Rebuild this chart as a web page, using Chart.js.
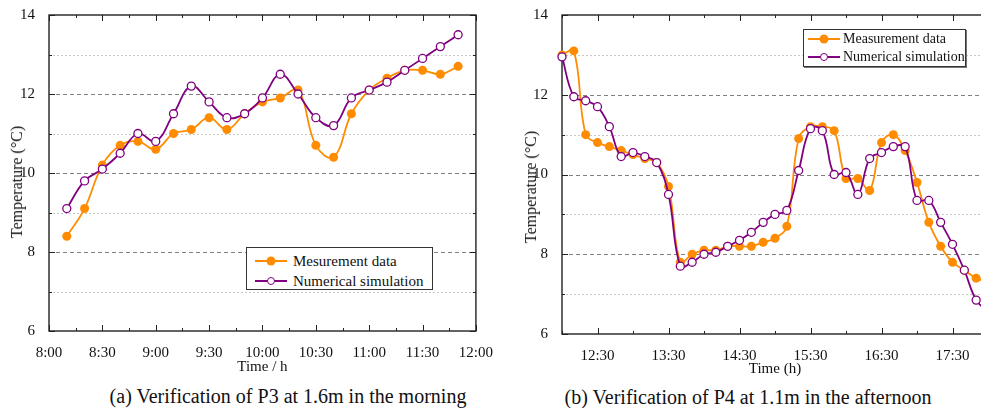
<!DOCTYPE html>
<html>
<head>
<meta charset="utf-8">
<script src="https://cdn.jsdelivr.net/npm/chart.js@4.4.1/dist/chart.umd.min.js"></script>
<style>
html, body { margin: 0; padding: 0; background: #fff; }
body { width: 981px; height: 408px; overflow: hidden; position: relative;
  font-family: 'Liberation Serif', 'Times New Roman', serif; color: #111; }
canvas { position: absolute; top: 0; }
.cap { position: absolute; transform: translate(-50%, -50%); white-space: nowrap; font-size: 20px; }
.ytl { position: absolute; transform: translate(-50%, -50%) rotate(-90deg); white-space: nowrap; font-size: 16px; }
.lg { position: absolute; background: #fff; border: 1px solid #333; box-sizing: border-box; }
.lg .row { display: flex; align-items: center; white-space: nowrap; }
.smp { position: relative; display: inline-block; height: 2px; flex: none; }
.smp i { position: absolute; left: 50%; top: 50%; border-radius: 50%; transform: translate(-50%, -50%); box-sizing: border-box; }
</style>
</head>
<body>
<canvas id="chartA" width="498" height="380" style="left:0px"></canvas>
<canvas id="chartB" width="485" height="382" style="left:513px"></canvas>
<div class="ytl" style="left:17px;top:182px">Temperature (°C)</div>
<div class="ytl" style="left:531px;top:187px">Temperature (°C)</div>
<div class="lg" id="legA" style="left:246px;top:247px;width:187px;height:43px;font-size:15px;padding-top:3px"></div>
<div class="lg" id="legB" style="left:803px;top:29px;width:163px;height:38px;font-size:14px;padding-top:0px;box-shadow:1px 1px 0 #777"></div>
<div class="cap" style="left:288px;top:396px">(a) Verification of P3 at 1.6m in the morning</div>
<div class="cap" style="left:748px;top:397px">(b) Verification of P4 at 1.1m in the afternoon</div>
<script>
// --- données (a) matin, P3 à 1.6m
const timeA = ["8:10", "8:20", "8:30", "8:40", "8:50", "9:00", "9:10", "9:20", "9:30", "9:40", "9:50", "10:00",
  "10:10", "10:20", "10:30", "10:40", "10:50", "11:00", "11:10", "11:20", "11:30", "11:40", "11:50"];
const measA = [8.4, 9.1, 10.2, 10.7, 10.8, 10.6, 11.0, 11.1, 11.4, 11.1, 11.5, 11.8,
  11.9, 12.1, 10.7, 10.4, 11.5, 12.1, 12.4, 12.6, 12.6, 12.5, 12.7];
const simA = [9.1, 9.8, 10.1, 10.5, 11.0, 10.8, 11.5, 12.2, 11.8, 11.4, 11.5, 11.9,
  12.5, 12.0, 11.4, 11.2, 11.9, 12.1, 12.3, 12.6, 12.9, 13.2, 13.5];
const ticksA = ["8:00", "8:30", "9:00", "9:30", "10:00", "10:30", "11:00", "11:30", "12:00"];

// --- données (b) après-midi, P4 à 1.1m
const timeB = ["12:00", "12:10", "12:20", "12:30", "12:40", "12:50", "13:00", "13:10", "13:20", "13:30",
  "13:40", "13:50", "14:00", "14:10", "14:20", "14:30", "14:40", "14:50", "15:00", "15:10",
  "15:20", "15:30", "15:40", "15:50", "16:00", "16:10", "16:20", "16:30", "16:40", "16:50",
  "17:00", "17:10", "17:20", "17:30", "17:40", "17:50", "18:00"];
const measB = [13.0, 13.1, 11.0, 10.8, 10.7, 10.6, 10.5, 10.4, 10.3, 9.7,
  7.8, 8.0, 8.1, 8.1, 8.2, 8.2, 8.2, 8.3, 8.4, 8.7,
  10.9, 11.2, 11.2, 11.1, 9.9, 9.9, 9.6, 10.8, 11.0, 10.6,
  9.8, 8.8, 8.2, 7.8, 7.6, 7.4, 7.3];
const simB = [12.95, 11.95, 11.85, 11.7, 11.2, 10.45, 10.55, 10.45, 10.3, 9.5,
  7.7, 7.8, 8.0, 8.05, 8.2, 8.35, 8.55, 8.8, 9.0, 9.1,
  10.1, 11.15, 11.1, 10.0, 10.05, 9.5, 10.4, 10.55, 10.7, 10.7,
  9.35, 9.35, 8.8, 8.25, 7.6, 6.85, 6.55];
const ticksB = ["12:30", "13:30", "14:30", "15:30", "16:30", "17:30"];

const ticksY = [6, 8, 10, 12, 14];

const ORANGE = "rgb(255, 140, 0)";
const PURPLE = "rgb(128, 0, 128)";

Chart.defaults.font.family = "'Liberation Serif', 'Times New Roman', serif";
Chart.defaults.color = "#111";

function toMin(s) {
  const [h, m] = s.split(":");
  return Number(h) * 60 + Number(m);
}
function fmt(v) {
  return Math.floor(v / 60) + ":" + String(v % 60).padStart(2, "0");
}

// grille pointillée, cadre et petits repères vers l'intérieur
const framePlugin = {
  id: "frame",
  beforeDatasetsDraw(chart, args, opts) {
    const { ctx, chartArea: a, scales: { x, y } } = chart;
    const seg = (x1, y1, x2, y2) => { ctx.beginPath(); ctx.moveTo(x1, y1); ctx.lineTo(x2, y2); ctx.stroke(); };
    ctx.save();
    ctx.lineWidth = 1;
    for (let v = y.min + 1; v < y.max; v++) {
      const py = Math.round(y.getPixelForValue(v)) + 0.5;
      const major = v % 2 === 0;
      ctx.strokeStyle = major ? "#808080" : "#c8c8c8";
      ctx.setLineDash(major ? [4, 3] : [2, 2]);
      seg(a.left, py, a.right, py);
    }
    ctx.setLineDash([]);
    ctx.strokeStyle = "#222";
    ctx.lineWidth = 1.4;
    ctx.strokeRect(a.left, a.top, a.right - a.left, a.bottom - a.top);
    ctx.lineWidth = 1;
    const majX = x.ticks.map(t => t.value);
    for (let v = x.min; v <= x.max; v += opts.xStep) {
      const px = Math.round(x.getPixelForValue(v)) + 0.5;
      const len = majX.includes(v) ? 6 : 3;
      seg(px, a.bottom, px, a.bottom - len);
      seg(px, a.top, px, a.top + len);
    }
    for (let v = y.min; v <= y.max; v++) {
      const py = Math.round(y.getPixelForValue(v)) + 0.5;
      const len = v % 2 === 0 ? 6 : 3;
      seg(a.left, py, a.left + len, py);
      seg(a.right, py, a.right - len, py);
    }
    ctx.restore();
  }
};

function makeChart(id, times, meas, sim, measLabel, xTicks, xMin, xMax, xStep, xTitle, padRight, xHeight) {
  const pts = arr => times.map((t, i) => ({ x: toMin(t), y: arr[i] }));
  return new Chart(document.getElementById(id), {
    type: "line",
    data: {
      datasets: [
        {
          label: measLabel,
          data: pts(meas),
          borderColor: ORANGE,
          backgroundColor: ORANGE,
          borderWidth: 1.8,
          pointRadius: 4.5,
          pointBorderWidth: 0,
          pointBackgroundColor: ORANGE,
          tension: 0.4,
          clip: false,
          order: 2,
        },
        {
          label: "Numerical simulation",
          data: pts(sim),
          borderColor: PURPLE,
          backgroundColor: "#fff",
          borderWidth: 1.8,
          pointRadius: 4,
          pointBorderWidth: 1.3,
          pointBackgroundColor: "#fff",
          pointBorderColor: PURPLE,
          tension: 0.4,
          clip: false,
          order: 1,
        },
      ],
    },
    options: {
      responsive: false,
      animation: false,
      devicePixelRatio: 1,
      layout: { padding: { left: 0, top: 15, right: padRight, bottom: 0 } },
      plugins: {
        legend: { display: false },
        tooltip: { enabled: false },
        frame: { xStep },
      },
      scales: {
        x: {
          type: "linear",
          min: xMin,
          max: xMax,
          grid: { display: false },
          border: { display: false },
          afterBuildTicks: s => { s.ticks = xTicks.map(t => ({ value: toMin(t) })); },
          afterFit: s => { s.height = xHeight; },
          ticks: { font: { size: 15 }, padding: 5, maxRotation: 0, autoSkip: false, callback: v => fmt(v) },
          title: { display: true, text: xTitle, font: { size: 15 }, padding: { top: 0, bottom: 4 } },
        },
        y: {
          min: 6,
          max: 14,
          grid: { display: false },
          border: { display: false },
          afterBuildTicks: s => { s.ticks = ticksY.map(v => ({ value: v })); },
          afterFit: s => { s.width = 49; },
          ticks: { font: { size: 15 }, padding: 6 },
        },
      },
    },
    plugins: [framePlugin],
  });
}

function makeLegend(id, chart, lineW, marginL, gap, rowH) {
  const box = document.getElementById(id);
  chart.data.datasets.forEach(ds => {
    const row = document.createElement("div");
    row.className = "row";
    row.style.height = rowH + "px";
    const smp = document.createElement("span");
    smp.className = "smp";
    smp.style.width = lineW + "px";
    smp.style.margin = "0 " + gap + "px 0 " + marginL + "px";
    smp.style.background = ds.borderColor;
    const dot = document.createElement("i");
    const d = ds.pointRadius * 2;
    dot.style.width = d + "px";
    dot.style.height = d + "px";
    dot.style.background = ds.pointBackgroundColor;
    if (ds.pointBorderWidth) dot.style.border = ds.pointBorderWidth + "px solid " + ds.pointBorderColor;
    smp.appendChild(dot);
    row.appendChild(smp);
    row.appendChild(document.createTextNode(ds.label));
    box.appendChild(row);
  });
}

const chartA = makeChart("chartA", timeA, measA, simA, "Mesurement data", ticksA, 480, 720, 15, "Time / h", 20, 49);
const chartB = makeChart("chartB", timeB, measB, simB, "Measurement data", ticksB, 720, 1080, 30, "Time (h)", 10, 48);

makeLegend("legA", chartA, 32, 8, 6, 20);
makeLegend("legB", chartB, 32, 4, 3, 18);
</script>
</body>
</html>
